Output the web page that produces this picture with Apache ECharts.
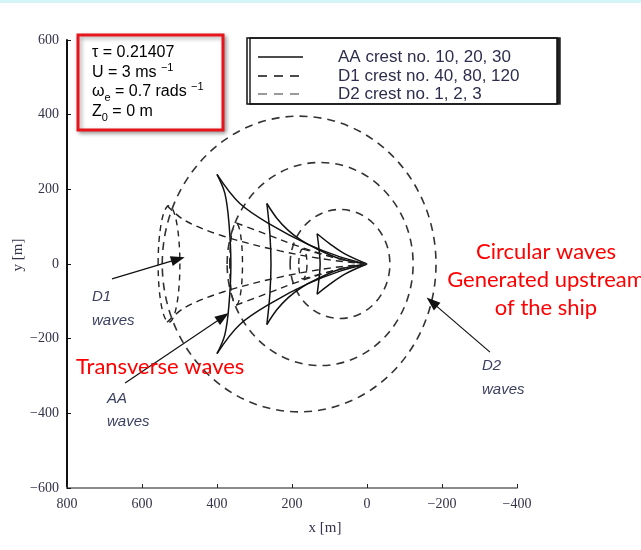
<!DOCTYPE html>
<html>
<head>
<meta charset="utf-8">
<title>crest pattern</title>
<script src="https://cdn.jsdelivr.net/npm/echarts@6/dist/echarts.min.js"></script>
<style>
html,body{margin:0;padding:0;background:#fff;}
#container1{width:641px;height:550px;}
</style>
</head>
<body>
<div id="container1"></div>
<script>
// tick labels
var xTicks = [800, 600, 400, 200, 0, -200, -400];
var yTicks = [600, 400, 200, 0, -200, -400, -600];

// AA crests 30 / 20 / 10 (solid) : upper divergent, transverse, lower divergent
var aa30Up = [[400,240],[339,162],[251,102],[160,54],[72,19],[0,0]];
var aa30Tr = [[400,240],[379,189],[368,108],[363,0],[368,-108],[379,-189],[400,-240]];
var aa30Lo = [[400,-240],[339,-162],[251,-102],[160,-54],[72,-19],[0,0]];
var aa20Up = [[267,162],[240,122],[210,90],[175,63],[133,40],[72,14],[0,0]];
var aa20Tr = [[267,162],[259,81],[256,0],[259,-81],[267,-162]];
var aa20Lo = [[267,-162],[240,-122],[210,-90],[175,-63],[133,-40],[72,-14],[0,0]];
var aa10Up = [[133,81],[99,54],[59,27],[0,0]];
var aa10Tr = [[133,81],[128,40],[125,0],[128,-40],[133,-81]];
var aa10Lo = [[133,-81],[99,-54],[59,-27],[0,0]];

// D1 crests 40 / 80 / 120 (dashed) : rays from the ship
var d1Ray120Up = [[533,156],[485,116],[384,75],[232,35],[99,11],[0,0]];
var d1Ray120Lo = [[533,-156],[485,-116],[384,-75],[232,-35],[99,-11],[0,0]];
var d1Ray80Up = [[349,110],[285,86],[179,46],[72,13],[0,0]];
var d1Ray80Lo = [[349,-110],[285,-86],[179,-46],[72,-13],[0,0]];
var d1Ray40Up = [[171,40],[85,17],[0,0]];
var d1Ray40Lo = [[171,-40],[85,-17],[0,0]];
// D1 closing loops: centre x, half width, half height (m)
var d1Cx = [171, 349, 528];
var d1Rx = [11, 17, 29];
var d1Ry = [40, 110, 156];

// D2 crests 1 / 2 / 3 (dashed rings)
var d2Cx = [72, 125, 181];
var d2Rx = [133, 248, 365];
var d2Ry = [146, 272, 396];

// arrows: [from, to]
var arrows = [
	[[680,-40],[504,13]],     // D1
	[[645,-319],[384,-142]],  // AA
	[[-328,-236],[-173,-102]] // D2
];

window.onload = function(){
	draw();
};

function ringData(cx, rx, ry) {
	var out = [];
	for (var i = 0; i < cx.length; i++) {
		out.push([cx[i], 0, rx[i], ry[i]]);
	}
	return out;
}

function ellipseItem(color, dash, width) {
	return function(params, api) {
		var c = api.coord([api.value(0), api.value(1)]);
		var s = api.size([api.value(2), api.value(3)]);
		return {
			type: 'ellipse',
			shape: {cx: c[0], cy: c[1], rx: s[0], ry: s[1]},
			style: {fill: 'none', stroke: color, lineWidth: width, lineDash: dash}
		};
	};
}

function draw() {
	var dom = document.getElementById("container1");
	var myChart = echarts.init(dom);
	var option = null;
	var series = [];

	// AA solid crests
	[aa30Up, aa30Tr, aa30Lo, aa20Up, aa20Tr, aa20Lo, aa10Up, aa10Tr, aa10Lo].forEach(function(d){
		series.push({
			type: 'line', data: d, smooth: 0.35, symbol: 'none', silent: true,
			lineStyle: {color: '#111', width: 1.5}
		});
	});
	// D1 dashed rays
	[d1Ray120Up, d1Ray120Lo, d1Ray80Up, d1Ray80Lo, d1Ray40Up, d1Ray40Lo].forEach(function(d){
		series.push({
			type: 'line', data: d, smooth: 0.35, symbol: 'none', silent: true,
			lineStyle: {color: '#222', width: 1.4, type: [7, 5]}
		});
	});
	// D1 loops
	series.push({
		type: 'custom', silent: true, encode: {x: 0, y: 1},
		data: ringData(d1Cx, d1Rx, d1Ry),
		renderItem: ellipseItem('#222', [6, 5], 1.4)
	});
	// D2 rings
	series.push({
		type: 'custom', silent: true, encode: {x: 0, y: 1},
		data: ringData(d2Cx, d2Rx, d2Ry),
		renderItem: ellipseItem('#333', [8, 6], 1.6)
	});
	// arrows
	series[0].markLine = {
		silent: true,
		symbol: ['none', 'triangle'],
		symbolSize: [10, 14],
		label: {show: false},
		lineStyle: {type: 'solid', color: '#111', width: 1.2},
		data: arrows.map(function(a){ return [{coord: a[0]}, {coord: a[1]}]; })
	};

	var labelFont = {fontFamily: 'Liberation Serif', fontSize: 14, color: '#33334a'};
	var noteStyle = {fontFamily: 'Liberation Sans', fontSize: 15, fontStyle: 'italic', fill: '#3c4060'};
	var redStyle = {fontFamily: 'Lato', fontSize: 22, fill: '#ff0000'};
	var boxText = {
		n: {fontSize: 16, lineHeight: 22, fontFamily: 'Liberation Sans', color: '#2d2d4d'},
		sup: {fontSize: 11, verticalAlign: 'top', fontFamily: 'Liberation Sans', color: '#2d2d4d'},
		sub: {fontSize: 11, verticalAlign: 'bottom', fontFamily: 'Liberation Sans', color: '#2d2d4d'}
	};

	option = {
		animation: false,
		backgroundColor: '#fff',
		grid: {left: 67, right: 124, top: 40, bottom: 62},
		xAxis: {
			type: 'value', inverse: true,
			min: -400, max: 800, interval: 200,
			axisLine: {onZero: false, lineStyle: {color: '#8a8a8a', width: 2}},
			axisTick: {inside: true, length: 4, customValues: xTicks, lineStyle: {color: '#222'}},
			axisLabel: {
				margin: 9, customValues: xTicks,
				formatter: function(v){ return String(v).replace('-', '\u2212'); },
				fontFamily: labelFont.fontFamily, fontSize: labelFont.fontSize, color: labelFont.color
			},
			splitLine: {show: false}
		},
		yAxis: {
			type: 'value',
			min: -600, max: 600, interval: 200,
			axisLine: {show: true, onZero: false, lineStyle: {color: '#111', width: 2}},
			axisTick: {show: true, inside: true, length: 4, customValues: yTicks, lineStyle: {color: '#111'}},
			axisLabel: {
				margin: 8, customValues: yTicks,
				formatter: function(v){ return String(v).replace('-', '\u2212'); },
				fontFamily: labelFont.fontFamily, fontSize: labelFont.fontSize, color: labelFont.color
			},
			splitLine: {show: false}
		},
		graphic: [
			// faint strip at the very top
			{type: 'rect', shape: {x: 0, y: 0, width: 641, height: 3}, style: {fill: '#d3f5f8'}, silent: true},
			// axis names
			{type: 'text', x: 325, y: 528, style: {text: 'x [m]', fontFamily: 'Liberation Serif', fontSize: 15, fill: '#33334a', align: 'center', verticalAlign: 'middle'}},
			{type: 'text', x: 18, y: 255, rotation: Math.PI / 2, style: {text: 'y [m]', fontFamily: 'Liberation Serif', fontSize: 15, fill: '#33334a', align: 'center', verticalAlign: 'middle'}},
			// parameter box
			{type: 'rect', shape: {x: 78, y: 35, width: 145, height: 95},
				style: {fill: '#fff', stroke: '#e8141c', lineWidth: 3, shadowBlur: 4, shadowColor: 'rgba(0,0,0,0.35)', shadowOffsetX: 2, shadowOffsetY: 2}, z: 10},
			{type: 'text', x: 92, y: 53, z: 11, style: {text: '{n|\u03c4 = 0.21407}', rich: boxText, verticalAlign: 'middle'}},
			{type: 'text', x: 92, y: 73, z: 11, style: {text: '{n|U = 3 ms }{sup|\u22121}', rich: boxText, verticalAlign: 'middle'}},
			{type: 'text', x: 92, y: 92, z: 11, style: {text: '{n|\u03c9}{sub|e}{n| = 0.7 rads }{sup|\u22121}', rich: boxText, verticalAlign: 'middle'}},
			{type: 'text', x: 92, y: 112, z: 11, style: {text: '{n|Z}{sub|0}{n| = 0 m}', rich: boxText, verticalAlign: 'middle'}},
			// legend box
			{type: 'rect', shape: {x: 247, y: 38, width: 310, height: 66},
				style: {fill: '#fff', stroke: '#111', lineWidth: 1.5, shadowColor: '#222', shadowOffsetX: 3, shadowOffsetY: 0, shadowBlur: 0}, z: 10},
			{type: 'line', shape: {x1: 258, y1: 57, x2: 303, y2: 57}, style: {stroke: '#111', lineWidth: 1.5}, z: 11},
			{type: 'line', shape: {x1: 258, y1: 76, x2: 303, y2: 76}, style: {stroke: '#111', lineWidth: 1.5, lineDash: [9, 7]}, z: 11},
			{type: 'line', shape: {x1: 258, y1: 94, x2: 303, y2: 94}, style: {stroke: '#999', lineWidth: 2, lineDash: [9, 7]}, z: 11},
			{type: 'text', x: 338, y: 57, z: 11, style: {text: 'AA crest no. 10, 20, 30', fontFamily: 'Liberation Sans', fontSize: 17, fill: '#2d2d4d', verticalAlign: 'middle'}},
			{type: 'text', x: 338, y: 76, z: 11, style: {text: 'D1 crest no. 40, 80, 120', fontFamily: 'Liberation Sans', fontSize: 17, fill: '#2d2d4d', verticalAlign: 'middle'}},
			{type: 'text', x: 338, y: 94, z: 11, style: {text: 'D2 crest no. 1, 2, 3', fontFamily: 'Liberation Sans', fontSize: 17, fill: '#2d2d4d', verticalAlign: 'middle'}},
			// wave notes
			{type: 'text', x: 92, y: 297, style: Object.assign({text: 'D1', verticalAlign: 'middle'}, noteStyle)},
			{type: 'text', x: 92, y: 321, style: Object.assign({text: 'waves', verticalAlign: 'middle'}, noteStyle)},
			{type: 'text', x: 107, y: 399, style: Object.assign({text: 'AA', verticalAlign: 'middle'}, noteStyle)},
			{type: 'text', x: 107, y: 422, style: Object.assign({text: 'waves', verticalAlign: 'middle'}, noteStyle)},
			{type: 'text', x: 482, y: 366, style: Object.assign({text: 'D2', verticalAlign: 'middle'}, noteStyle)},
			{type: 'text', x: 482, y: 390, style: Object.assign({text: 'waves', verticalAlign: 'middle'}, noteStyle)},
			// red annotations
			{type: 'text', x: 76, y: 367, z: 12, style: Object.assign({text: 'Transverse waves', verticalAlign: 'middle'}, redStyle)},
			{type: 'text', x: 546, y: 252, z: 12, style: Object.assign({text: 'Circular waves', align: 'center', verticalAlign: 'middle'}, redStyle)},
			{type: 'text', x: 546, y: 280, z: 12, style: Object.assign({text: 'Generated upstream', align: 'center', verticalAlign: 'middle'}, redStyle)},
			{type: 'text', x: 546, y: 308, z: 12, style: Object.assign({text: 'of the ship', align: 'center', verticalAlign: 'middle'}, redStyle)}
		],
		series: series
	};

	window.addEventListener("resize", function () {
		myChart.resize();
	});

	if (option && typeof option === "object") {
		myChart.setOption(option, true);
	}
}
</script>
</body>
</html>
